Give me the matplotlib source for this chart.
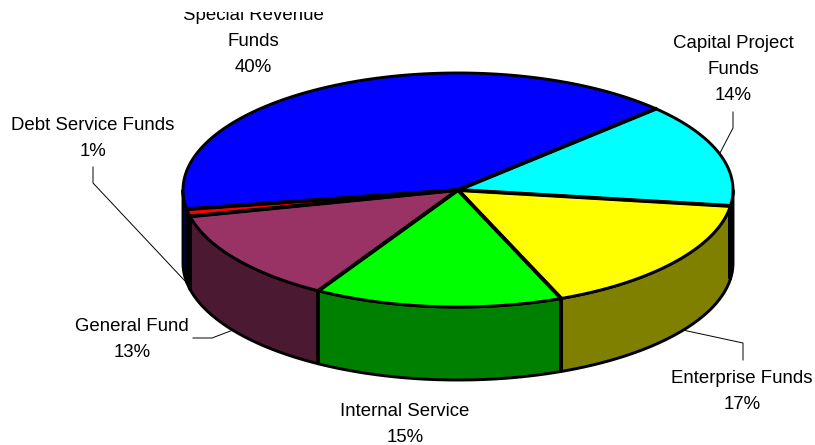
import numpy as np
import matplotlib
matplotlib.use("Agg")
import matplotlib.pyplot as plt
from matplotlib.patches import Polygon, Rectangle

# ---------------- data ----------------
categories = ["Capital Project Funds", "Enterprise Funds", "Internal Service",
              "General Fund", "Debt Service Funds", "Special Revenue Funds"]
values = [14.4, 16.7, 14.6, 12.9, 1.0, 40.4]
label_lines = [["Capital Project", "Funds"], ["Enterprise Funds"], ["Internal Service"],
               ["General Fund"], ["Debt Service Funds"], ["Special Revenue", "Funds"]]
top_colors = ["#00FFFF", "#FFFF00", "#00FF00", "#993366", "#FF0000", "#0000FF"]
side_colors = ["#008080", "#808000", "#008000", "#4C1933", "#800000", "#000080"]

# ---------------- layout ----------------
W, H = 815, 445
CX, CY, RX, RY, DEPTH = 458, 190, 275, 117, 73
START = 44.0  # degrees, slices run clockwise
FS = 13.4
LINE_STEP = 26
CLIP_TOP = 12

# label: (x center, first baseline y)
label_pos = [(733, 48), (742, 383), (405, 416), (132, 331), (93, 130), (253, 20)]
# leader: (elbow points, anchor angle, on bottom edge) or None
leaders = [([(733, 112), (733, 128)], 18, False),
           ([(743, 360), (743, 343)], -35, True),
           None,
           ([(193, 338), (212, 338)], -145, True),
           ([(93, 167), (93, 183)], -170, True),
           None]

fig = plt.figure(figsize=(W / 100, H / 100), dpi=100)
ax = fig.add_axes([0, 0, 1, 1])
ax.set_xlim(0, W)
ax.set_ylim(H, 0)
ax.axis("off")


def pt(theta, dz=0.0):
    t = np.radians(theta)
    return CX + RX * np.cos(t), CY - RY * np.sin(t) + dz


total = float(sum(values))
bounds = []
a = START
for v in values:
    span = 360.0 * v / total
    bounds.append((a - span, a))
    a -= span

LW = 2.1
SEAM_LW = 2.8
# side walls (front half only)
for (lo, hi), sc in zip(bounds, side_colors):
    for f0, f1 in [(-540, -360), (-180, 0), (180, 360)]:
        s0, s1 = max(lo, f0), min(hi, f1)
        if s1 - s0 <= 0:
            continue
        th = np.linspace(s0, s1, 80)
        top = [pt(t) for t in th]
        bot = [pt(t, DEPTH) for t in th[::-1]]
        ax.add_patch(Polygon(top + bot, closed=True, facecolor=sc,
                             edgecolor="black", linewidth=LW, joinstyle="round"))
        # vertical seams at slice boundaries
        for b in (s0, s1):
            if b in (lo, hi):
                (x0, y0), (x1, y1) = pt(b), pt(b, DEPTH)
                ax.plot([x0, x1], [y0, y1], color="black", linewidth=SEAM_LW,
                        solid_capstyle="butt")

# top faces
for (lo, hi), tc in zip(bounds, top_colors):
    th = np.linspace(lo, hi, max(4, int((hi - lo) * 2)))
    poly = [(CX, CY)] + [pt(t) for t in th]
    ax.add_patch(Polygon(poly, closed=True, facecolor=tc,
                         edgecolor="black", linewidth=LW, joinstyle="round"))

# radial separators on top face
for lo, hi in bounds:
    x1, y1 = pt(hi)
    ax.plot([CX, x1], [CY, y1], color="black", linewidth=SEAM_LW,
            solid_capstyle="round")

# labels (clipped to the chart area like the original)
clip_rect = Rectangle((0, CLIP_TOP), W, H - CLIP_TOP, transform=ax.transData)
for lines, v, (lx, ly) in zip(label_lines, values, label_pos):
    texts = lines + [f"{v:.0f}%"]
    for i, s in enumerate(texts):
        t = ax.text(lx, ly + i * LINE_STEP, s, ha="center", va="baseline",
                    fontsize=FS, family=["Liberation Sans", "DejaVu Sans"], color="black")
        t.set_clip_on(True)
        t.set_clip_path(clip_rect)

# leader lines
for ld in leaders:
    if ld is None:
        continue
    pts, ang, bottom = ld
    end = pt(ang, DEPTH if bottom else 0)
    xs = [p[0] for p in pts] + [end[0]]
    ys = [p[1] for p in pts] + [end[1]]
    ax.plot(xs, ys, color="black", linewidth=0.7)

fig.savefig("out.png", dpi=100)
